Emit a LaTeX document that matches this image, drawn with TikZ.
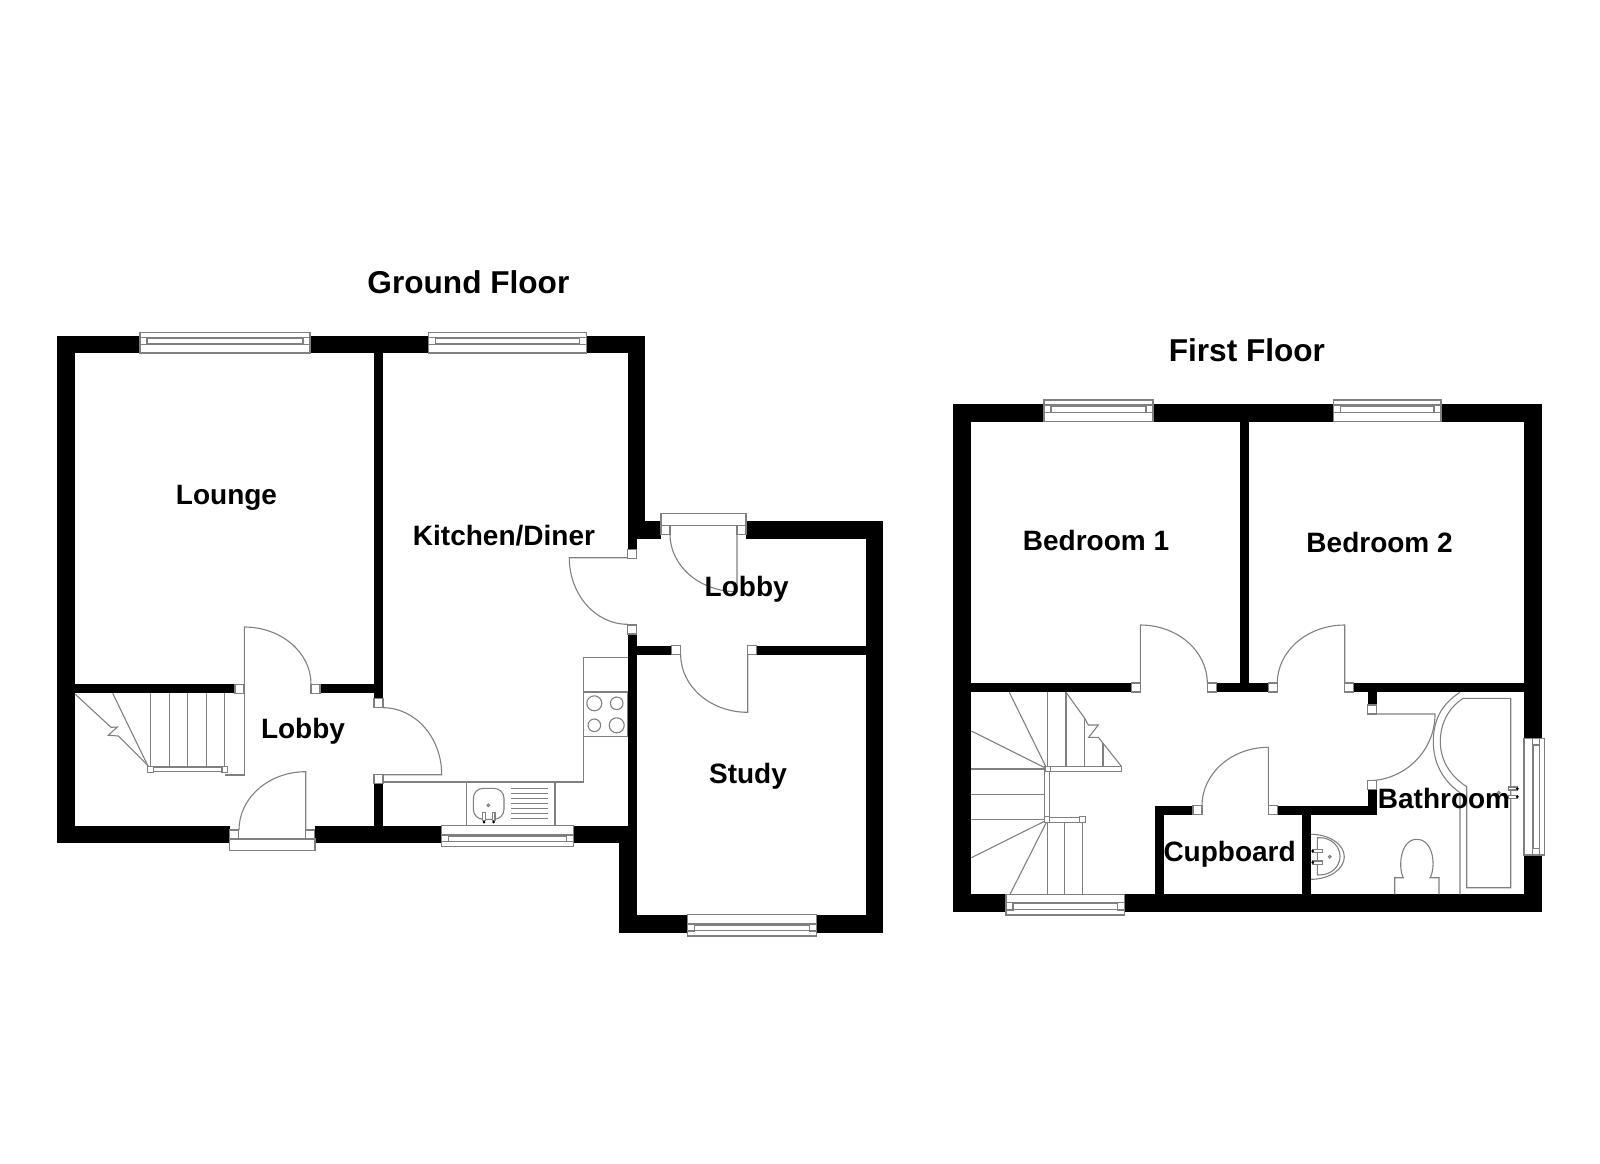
\documentclass[tikz,border=0pt]{standalone}
\usepackage{fontspec}
\setmainfont{Liberation Sans}
\usepackage{tikz}

\tikzset{
  wall/.style={fill=black},
  fitting/.style={draw=gray,line width=0.55pt},
  jamb/.style={fitting,fill=white},
  roomlabel/.style={anchor=base,inner sep=0pt,font=\bfseries\fontsize{14}{16}\selectfont},
  floorlabel/.style={anchor=base,inner sep=0pt,font=\bfseries\fontsize{15.8}{18}\selectfont}
}

\begin{document}
\begin{tikzpicture}[x=0.5pt,y=-0.5pt]
   \useasboundingbox (0,0) rectangle (1600,1163);
   % ground floor walls
   \fill[wall] (57,335.5) rectangle (140,353);
   \fill[wall] (310,335.5) rectangle (428.5,353);
   \fill[wall] (586.6,335.5) rectangle (645.3,353);
   \fill[wall] (57,335.5) rectangle (75,843.3);
   \fill[wall] (57,825.7) rectangle (229.7,843.3);
   \fill[wall] (314.7,825.7) rectangle (441.7,843.3);
   \fill[wall] (573.3,825.7) rectangle (636.7,843.3);
   \fill[wall] (627.7,335.5) rectangle (645.3,539);
   \fill[wall] (645.3,521) rectangle (661,539);
   \fill[wall] (627.7,539) rectangle (636.7,549.3);
   \fill[wall] (627.7,634) rectangle (636.7,825.7);
   \fill[wall] (618.7,825.7) rectangle (636.7,933);
   \fill[wall] (746,521) rectangle (883.2,539);
   \fill[wall] (865.7,521) rectangle (883.2,933);
   \fill[wall] (618.7,915) rectangle (687.7,933);
   \fill[wall] (816.7,915) rectangle (883.2,933);
   \fill[wall] (636.7,645.7) rectangle (671.7,654.7);
   \fill[wall] (756.7,645.7) rectangle (865.7,654.7);
   \fill[wall] (75,684.3) rectangle (235,693.3);
   \fill[wall] (320.7,684.3) rectangle (374,693.3);
   \fill[wall] (374,353) rectangle (383,698.7);
   \fill[wall] (374,783.7) rectangle (383,825.7);
   % first floor walls
   \fill[wall] (953.3,403.5) rectangle (1042.7,421.7);
   \fill[wall] (1153,403.5) rectangle (1333.9,421.7);
   \fill[wall] (1441,403.5) rectangle (1541.7,421.7);
   \fill[wall] (953.3,403.5) rectangle (971.3,911.7);
   \fill[wall] (953.3,894.3) rectangle (1006,911.7);
   \fill[wall] (1124.3,894.3) rectangle (1541.7,911.7);
   \fill[wall] (1524,403.5) rectangle (1541.7,738.3);
   \fill[wall] (1524,855) rectangle (1541.7,911.7);
   \fill[wall] (1240,421.7) rectangle (1248.7,683);
   \fill[wall] (971.3,683) rectangle (1131.3,692);
   \fill[wall] (1216.7,683) rectangle (1268.3,692);
   \fill[wall] (1353.3,683) rectangle (1524,692);
   \fill[wall] (1367.7,692) rectangle (1376.7,705);
   \fill[wall] (1367.7,790) rectangle (1376.7,814.7);
   \fill[wall] (1277.3,805.7) rectangle (1376.7,814.7);
   \fill[wall] (1155,805.7) rectangle (1193,814.7);
   \fill[wall] (1155,805.7) rectangle (1164,894.3);
   \fill[wall] (1302,814.7) rectangle (1311,894.3);
   % windows
   \foreach \xa/\xb/\ya/\yb/\yc/\yd in {140/310/332.3/337.3/344.5/353,
      428.5/586.6/332.3/337.3/344.5/353, 441.7/573.3/825.7/835/841.7/846.3,
      687.7/816.7/914.3/924/931/936, 1044/1153/400/405/412.7/421.7,
      1333.9/1441/400/405/412.7/421.7, 1006/1124.3/894.3/902.3/910/915}{
     \draw[jamb] (\xa,\ya) rectangle (\xb,\yd);
     \draw[fitting] (\xa,\yb) -- (\xb,\yb);
     \draw[fitting] (\xa,\yb) rectangle (\xa+7,\yc);
     \draw[fitting] (\xb-7,\yb) rectangle (\xb,\yc);
     \draw[fitting] (\xa+7,\yb+1.5) rectangle (\xb-7,\yc-0.5);
   }
   \draw[jamb] (1524,738.3) rectangle (1544.3,855);
   \draw[fitting] (1532.3,738.3) -- (1532.3,855);
   \draw[fitting] (1532.3,738.3) rectangle (1539.8,745);
   \draw[fitting] (1532.3,848.3) rectangle (1539.8,855);
   \draw[fitting] (1533.8,745) rectangle (1539.3,848.3);
   % doors
   \draw[jamb] (229.7,839) rectangle (315,850.7);
   \draw[jamb] (661,513.3) rectangle (746,525.7);
   \draw[fitting] (244.3,693) -- (244.3,627) arc[start angle=-90,end angle=0,x radius=66.7,y radius=57];
   \draw[fitting] (305.7,830) -- (305.7,771.7) arc[start angle=-90,end angle=-180,x radius=66.7,y radius=58.3];
   \draw[fitting] (383,707.7) arc[start angle=-90,end angle=0,x radius=58.7,y radius=67] -- (383,774.7);
   \draw[fitting] (627.7,557.7) -- (569.3,557.7) arc[start angle=180,end angle=90,x radius=58.4,y radius=66.6];
   \draw[fitting] (737,534.3) -- (737,591.7) arc[start angle=90,end angle=180,x radius=67,y radius=57.4];
   \draw[fitting] (747.7,654.7) -- (747.7,712.3) arc[start angle=90,end angle=180,x radius=67,y radius=57.6];
   \draw[fitting] (1140.3,692) -- (1140.3,625) arc[start angle=-90,end angle=0,x radius=67,y radius=58];
   \draw[fitting] (1344.7,692) -- (1344.7,625) arc[start angle=-90,end angle=-180,x radius=67.4,y radius=58];
   \draw[fitting] (1268.3,805.7) -- (1268.3,747.3) arc[start angle=-90,end angle=-180,x radius=66.3,y radius=58.4];
   \draw[fitting] (1367.7,714) -- (1435,714) arc[start angle=0,end angle=90,x radius=67.3,y radius=66.7];
   \foreach \x/\y in {235/684.3, 311/684.3, 374/698.7, 374/774.7, 229.7/830, 305.7/830,
      627.7/549.3, 627.7/625, 661/525.7, 737/525.7, 671.7/645.7, 747.7/645.7,
      1131.3/683, 1207.3/683, 1268.3/683, 1344.7/683, 1367.7/705, 1367.7/780.7,
      1193/805.7, 1268.3/805.7}
     \draw[jamb] (\x,\y) rectangle (\x+9,\y+9);
   % ground floor stairs
   \draw[fitting] (244.3,693) -- (244.3,775) -- (225,775);
   \draw[fitting] (112.7,693.3) -- (148.3,766.7);
   \draw[fitting] (75,694) -- (111,727.3) -- (117.3,727) -- (108.3,735.3) -- (118.3,736) -- (148.3,766);
   \foreach \x in {150.3,169.3,187.7,206.3,224.3}
     \draw[fitting] (\x,693.3) -- (\x,767);
   \draw[jamb] (153.3,767) rectangle (222,771.3);
   \draw[jamb] (147.3,766.3) rectangle (153.3,772.3);
   \draw[jamb] (222,766.3) rectangle (227.7,772.3);
   % kitchen units
   \draw[fitting] (383,782) -- (583.3,782) -- (583.3,657.7) -- (627.7,657.7);
   \draw[fitting] (583.3,692) rectangle (627.7,736.7);
   \draw[fitting] (594.3,703.3) circle (7.5);
   \draw[fitting] (616.7,703.3) circle (6.3);
   \draw[fitting] (594.3,725.3) circle (6.3);
   \draw[fitting] (616.7,725.3) circle (7.5);
   \draw[fitting] (466.7,782) rectangle (555,825.7);
   \draw[fitting,rounded corners=5pt] (473.3,788.3) rectangle (504,819.3);
   \draw[fitting] (488.3,805.3) circle (1.3);
   \draw[jamb] (482.7,812.7) rectangle (485.3,820.5);
   \draw[jamb] (492.4,812.7) rectangle (495,820.5);
   \fill (484,822) circle (1.5);
   \fill (493.7,822) circle (1.5);
   \foreach \y in {788.3,793.4,798.5,803.5,808.6,813.6,818.7}
     \draw[fitting] (511,\y) -- (548.3,\y);
   % first floor stairs
   \draw[fitting] (1009.3,692.3) -- (1046.7,768.3);
   \draw[fitting] (971.3,731) -- (1046,768.3);
   \draw[fitting] (971.3,769) -- (1045,769);
   \draw[fitting] (971.3,794.3) -- (1045,794.3);
   \draw[fitting] (971.3,819.7) -- (1045,819.7);
   \draw[fitting] (971.3,857.7) -- (1045,821);
   \draw[fitting] (1010,894.3) -- (1046.7,821.7);
   \draw[fitting] (1047.3,692.3) -- (1047.3,766.7);
   \draw[fitting] (1066,692.3) -- (1066,766.7);
   \draw[fitting] (1084.7,718.3) -- (1084.7,766.7);
   \draw[fitting] (1103,743.3) -- (1103,766.7);
   \draw[fitting] (1066,692.3) -- (1084.7,718.3) -- (1088.3,725) -- (1098.3,725) -- (1088.7,737.3) -- (1098.3,737.3) -- (1121.7,766.7);
   \foreach \x in {1047.3,1064.7,1082.3}
     \draw[fitting] (\x,822.3) -- (\x,894.3);
   \draw[jamb] (1050.3,766.7) rectangle (1121.7,771.3);
   \draw[jamb] (1044.7,771.3) rectangle (1049.3,816.7);
   \draw[jamb] (1049.7,817.7) rectangle (1079.7,822.3);
   \draw[jamb] (1045,766.3) rectangle (1050.3,771.3);
   \draw[jamb] (1044.3,816.7) rectangle (1049.7,822.3);
   \draw[jamb] (1079.7,816.7) rectangle (1085.3,822.3);
   % bathroom
   \draw[fitting] (1460,692.3) .. controls (1440,705) and (1433.3,722) .. (1433.3,741.7) .. controls (1433.3,762) and (1442,780) .. (1460,792.7) -- (1460,894.3);
   \draw[fitting] (1463.3,698.3) .. controls (1448,708) and (1440.3,724) .. (1440.3,741.7) .. controls (1440.3,760) and (1450,776) .. (1466.7,786.7) -- (1466.7,887.7) -- (1510.7,887.7) -- (1510.7,698.3) -- cycle;
   \draw[fitting] (1498.7,792.7) circle (1.3);
   \draw[jamb] (1508.3,787) rectangle (1517,790);
   \draw[jamb] (1508.3,795.7) rectangle (1517,798.7);
   \fill (1517.3,788.7) circle (1.5);
   \fill (1517.3,796.7) circle (1.5);
   \draw[fitting] (1311,834.3) arc[start angle=-90,end angle=90,x radius=33.3,y radius=22.5];
   \draw[fitting] (1317.3,875) -- (1317.3,837.7) -- (1320,837.7) arc[start angle=-90,end angle=90,x radius=20,y radius=18.6] -- (1317.3,875);
   \draw[fitting] (1329.7,856.7) circle (1.3);
   \draw[jamb] (1313,849.3) rectangle (1322.7,852.7);
   \draw[jamb] (1313,861) rectangle (1322.7,864.3);
   \fill (1312.7,851) circle (1.5);
   \fill (1312.7,862.3) circle (1.5);
   \draw[fitting] (1394.7,894.3) -- (1394.7,877.7) -- (1403.3,877.7) .. controls (1398,868) and (1400,839.3) .. (1416.7,839.3) .. controls (1434,839.3) and (1436,868) .. (1430,877.7) -- (1439,877.7) -- (1439,894.3);
   % labels
   \node[floorlabel] (groundfloor) at (468.4,293) {Ground Floor};
   \node[floorlabel] (firstfloor) at (1246.9,361) {First Floor};
   \node[roomlabel] (lounge) at (226.5,504.5) {Lounge};
   \node[roomlabel] (kitchen) at (504,545) {Kitchen/Diner};
   \node[roomlabel] (lobbyback) at (746.7,596) {Lobby};
   \node[roomlabel] (study) at (748,783.3) {Study};
   \node[roomlabel] (lobbyfront) at (303,738.3) {Lobby};
   \node[roomlabel] (bedone) at (1096,550.5) {Bedroom 1};
   \node[roomlabel] (bedtwo) at (1379.6,552.5) {Bedroom 2};
   \node[roomlabel] (cupboard) at (1229.6,861) {Cupboard};
   \node[roomlabel] (bathroom) at (1444,808.3) {Bathroom};
\end{tikzpicture}
\end{document}
